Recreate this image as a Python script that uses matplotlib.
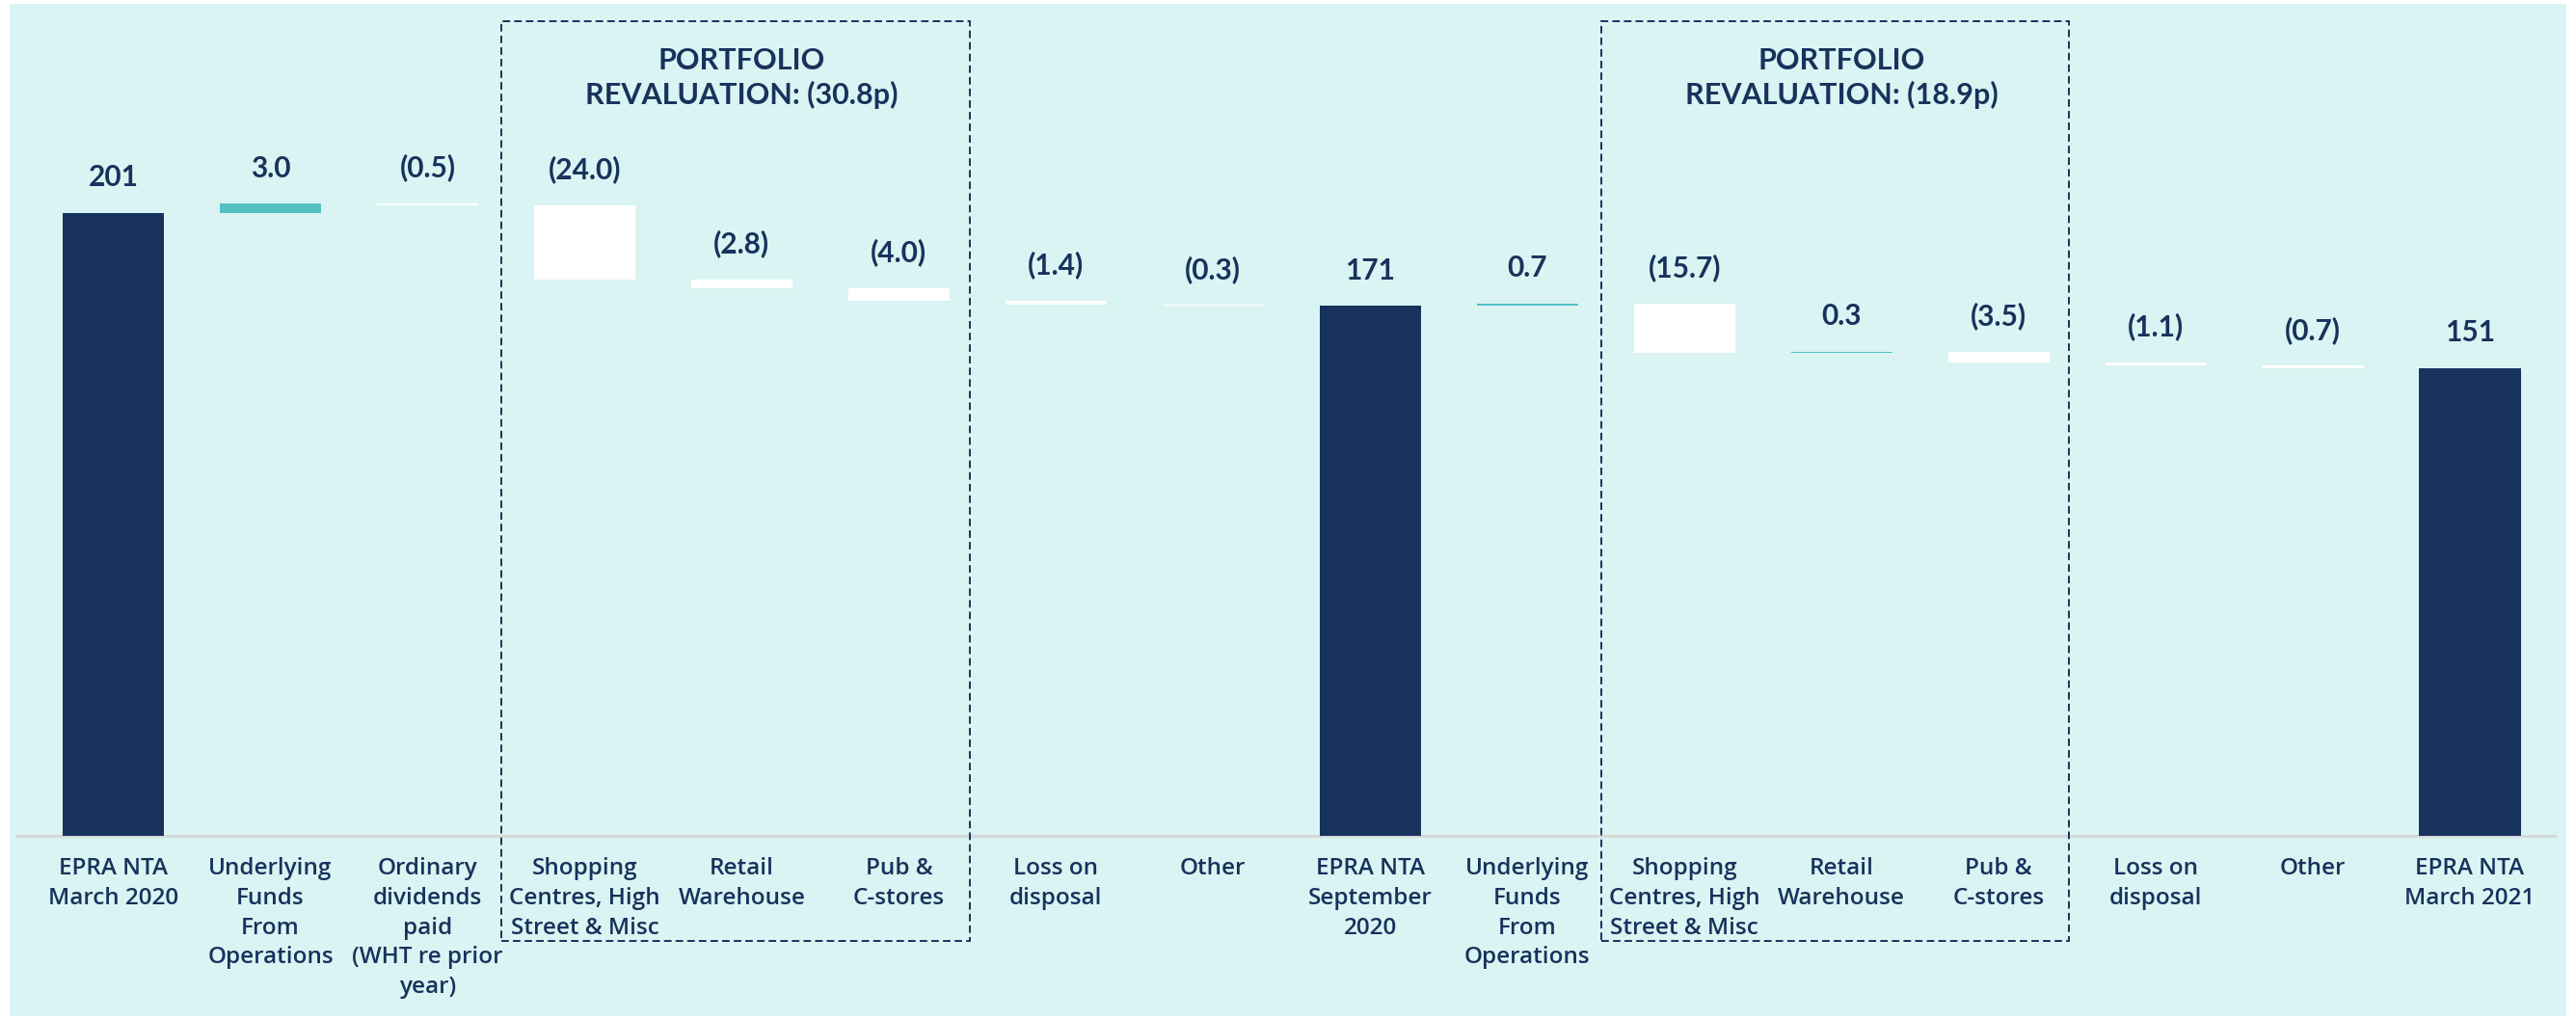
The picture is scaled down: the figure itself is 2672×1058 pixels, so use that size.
import matplotlib
matplotlib.use("Agg")
import matplotlib.pyplot as plt
from matplotlib.patches import Rectangle

# NTA bridge (pence per share)
categories = [
    "EPRA NTA\nMarch 2020",
    "Underlying\nFunds\nFrom\nOperations",
    "Ordinary\ndividends\npaid\n(WHT re prior\nyear)",
    "Shopping\nCentres, High\nStreet & Misc",
    "Retail\nWarehouse",
    "Pub &\nC-stores",
    "Loss on\ndisposal",
    "Other",
    "EPRA NTA\nSeptember\n2020",
    "Underlying\nFunds\nFrom\nOperations",
    "Shopping\nCentres, High\nStreet & Misc",
    "Retail\nWarehouse",
    "Pub &\nC-stores",
    "Loss on\ndisposal",
    "Other",
    "EPRA NTA\nMarch 2021",
]
values = [201, 3.0, -0.5, -24.0, -2.8, -4.0, -1.4, -0.3, 171,
          0.7, -15.7, 0.3, -3.5, -1.1, -0.7, 151]
is_total = [True, False, False, False, False, False, False, False, True,
            False, False, False, False, False, False, True]
value_labels = ["201", "3.0", "(0.5)", "(24.0)", "(2.8)", "(4.0)", "(1.4)",
                "(0.3)", "171", "0.7", "(15.7)", "0.3", "(3.5)", "(1.1)",
                "(0.7)", "151"]

# Revaluation groups: (first bar, last bar, heading)
groups = [
    (3, 5, "PORTFOLIO\nREVALUATION: (30.8p)"),
    (10, 12, "PORTFOLIO\nREVALUATION: (18.9p)"),
]

NAVY = "#17325C"
TEAL = "#55C1C5"
BG = "#DAF4F3"
FONT = ["Lato", "DejaVu Sans"]
TICK_FONT = ["Open Sans", "DejaVu Sans"]

W, H = 2672, 1058
fig = plt.figure(figsize=(W / 100, H / 100), dpi=100, facecolor="white")

# Panel background
fig.patches.append(Rectangle((10 / W, 4 / H), (2662 - 10) / W, (1054 - 4) / H,
                             transform=fig.transFigure, facecolor=BG,
                             edgecolor="none", zorder=-10))

base_px, top_px = 867, 22
ax = fig.add_axes([17 / W, (H - base_px) / H, (2650 - 17) / W,
                   (base_px - top_px) / H])
ax.set_facecolor("none")
ymax = (base_px - top_px) / 3.214
ax.set_ylim(0, ymax)
ax.set_xlim(-0.617, 15.54)

# Waterfall geometry
bottoms, heights, colors = [], [], []
running = 0.0
for v, tot in zip(values, is_total):
    if tot:
        bottoms.append(0)
        heights.append(v)
        colors.append(NAVY)
        running = v
    else:
        if v >= 0:
            bottoms.append(running)
            colors.append(TEAL)
        else:
            bottoms.append(running + v)
            colors.append("white")
        heights.append(abs(v))
        running += v

x = list(range(len(values)))
ax.bar(x, heights, bottom=bottoms, width=0.645, color=colors,
       edgecolor="none", zorder=3)

for xi, b, h, lab in zip(x, bottoms, heights, value_labels):
    ax.annotate(lab, (xi, b + h), xytext=(0, 20), textcoords="offset points",
                ha="center", va="baseline", fontsize=21.5, fontweight="bold",
                color=NAVY, family=FONT, zorder=5)

# Group boxes and headings
box_bottom = (base_px - 976) / 3.214
for start, end, title in groups:
    left, right = start - 0.53, end + 0.45
    ax.add_patch(Rectangle((left, box_bottom), right - left, ymax - box_bottom,
                           fill=False, edgecolor=NAVY, linewidth=1.4,
                           linestyle=(0, (4, 2.2)), clip_on=False, zorder=4))
    ax.text((start + end) / 2, (base_px - 81) / 3.214, title, ha="center",
            va="center", fontsize=22, fontweight="bold", color=NAVY,
            family=FONT, linespacing=1.25)

# Axes styling
for side in ["top", "right", "left"]:
    ax.spines[side].set_visible(False)
ax.spines["bottom"].set_color("#D6D8D8")
ax.spines["bottom"].set_linewidth(2.2)
ax.set_yticks([])
ax.set_xticks(x)
ax.set_xticklabels(categories, fontsize=17.5, fontweight="semibold",
                   color=NAVY, family=TICK_FONT, linespacing=1.37, va="top")
ax.tick_params(axis="x", length=0, pad=16)

fig.savefig("out.png", dpi=100, facecolor="white")
